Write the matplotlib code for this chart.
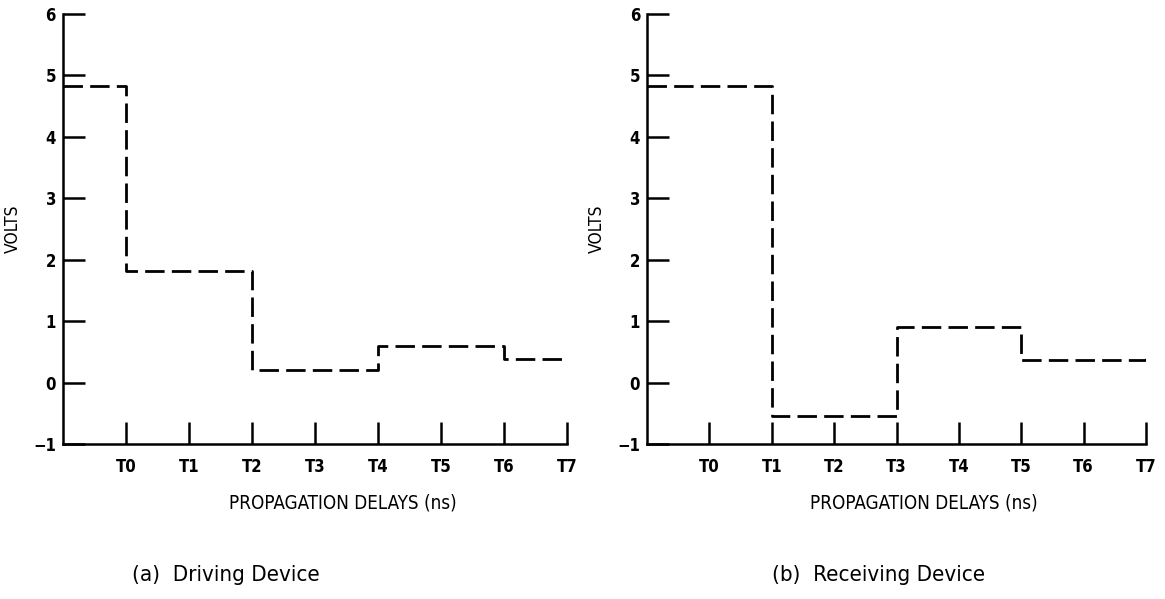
import matplotlib.pyplot as plt
from matplotlib import font_manager
import numpy as np

# condensed face if there is one, otherwise plain Liberation Sans
names = {f.name for f in font_manager.fontManager.ttflist}
narrow = [f for f in font_manager.fontManager.ttflist
          if f.name == 'DejaVu Sans' and f.stretch == 'condensed']
if 'Liberation Sans Narrow' in names:
    fam, stretch = 'Liberation Sans Narrow', 'normal'
elif narrow:
    fam, stretch = 'DejaVu Sans', 'condensed'
else:
    fam, stretch = 'Liberation Sans', 'normal'
plt.rcParams['font.family'] = [fam, 'DejaVu Sans']
plt.rcParams['font.stretch'] = stretch

# step positions (left spine at -1, T0..T7 at 0..7)
x_drive = [-1, 0, 0, 2, 2, 4, 4, 6, 6, 7]
v_drive = [4.82, 4.82, 1.82, 1.82, 0.2, 0.2, 0.6, 0.6, 0.38, 0.38]

x_recv = [-1, 1, 1, 3, 3, 5, 5, 7, 7]
v_recv = [4.82, 4.82, -0.55, -0.55, 0.9, 0.9, 0.37, 0.37, 0.47]

tick_names = ['T0', 'T1', 'T2', 'T3', 'T4', 'T5', 'T6', 'T7']
yvals = [-1, 0, 1, 2, 3, 4, 5, 6]
ylabels = ['\u22121', '0', '1', '2', '3', '4', '5', '6']

fig = plt.figure(figsize=(11.65, 5.99), dpi=100)
ax1 = fig.add_axes([0.054, 0.2588, 0.4327, 0.7179])
ax2 = fig.add_axes([0.5554, 0.2588, 0.4283, 0.7179])


def style(ax, xs, vs, caption, cx):
    ax.plot(xs, vs, color='black', lw=2.0, linestyle=(0, (7, 2.6)))
    ax.set_xlim(-1, 7)
    ax.set_ylim(-1, 6)
    for s in ['top', 'right']:
        ax.spines[s].set_visible(False)
    for s in ['left', 'bottom']:
        ax.spines[s].set_linewidth(1.8)
    ax.set_xticks(range(8))
    ax.set_xticklabels(tick_names, fontweight='bold')
    ax.set_yticks(yvals)
    ax.set_yticklabels(ylabels, fontweight='bold')
    ax.tick_params(direction='in', length=16, width=1.8, labelsize=12, pad=10)
    ax.tick_params(axis='y', pad=5)
    ax.set_xlabel('PROPAGATION DELAYS (ns)', fontsize=13.5, labelpad=12)
    ax.xaxis.set_label_coords(0.555, -0.115)
    ax.set_ylabel('VOLTS', fontsize=12.5, labelpad=8)
    fig.text(cx, 0.04, caption, fontsize=16, ha='center', va='center')


style(ax1, x_drive, v_drive, '(a)  Driving Device', 0.194)
style(ax2, x_recv, v_recv, '(b)  Receiving Device', 0.754)

fig.savefig('out.png', dpi=100)
